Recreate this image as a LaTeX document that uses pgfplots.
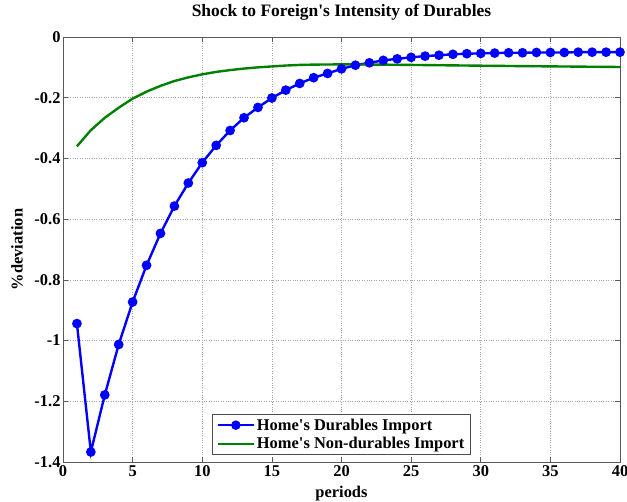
\documentclass[border=0pt]{standalone}
\usepackage{fontspec}
\setmainfont{Liberation Serif}[Ligatures=TeXOff]
\usepackage{pgfplots}
\pgfplotsset{compat=1.18}
\usepackage{pgfplotstable}

% Impulse responses, periods 1..40
\pgfplotstableread{
t dur nondur
1  -0.944 -0.360
2  -1.367 -0.307
3  -1.179 -0.266
4  -1.013 -0.233
5  -0.873 -0.203
6  -0.752 -0.180
7  -0.647 -0.161
8  -0.557 -0.145
9  -0.481 -0.133
10 -0.414 -0.123
11 -0.357 -0.115
12 -0.308 -0.109
13 -0.266 -0.104
14 -0.232 -0.100
15 -0.201 -0.097
16 -0.175 -0.094
17 -0.153 -0.092
18 -0.134 -0.0910
19 -0.120 -0.0905
20 -0.105 -0.0903
21 -0.093 -0.0904
22 -0.085 -0.0907
23 -0.077 -0.0911
24 -0.072 -0.0915
25 -0.067 -0.0920
26 -0.063 -0.0925
27 -0.060 -0.0930
28 -0.057 -0.0935
29 -0.055 -0.0940
30 -0.054 -0.0945
31 -0.053 -0.0950
32 -0.052 -0.0955
33 -0.052 -0.0960
34 -0.051 -0.0964
35 -0.051 -0.0968
36 -0.051 -0.0972
37 -0.050 -0.0976
38 -0.050 -0.0980
39 -0.050 -0.0984
40 -0.050 -0.0988
}\irf

\begin{document}
\begin{tikzpicture}
\path[use as bounding box] (-63bp,-40bp) rectangle (564bp,462bp);
\begin{axis}[
  at={(0,0)}, anchor=south west,
  scale only axis,
  width=557bp, height=425bp,
  xmin=0, xmax=40, ymin=-1.4, ymax=0,
  xtick={0,5,...,40},
  ytick={-1.4,-1.2,-1,-0.8,-0.6,-0.4,-0.2,0},
  yticklabels={-1.4,-1.2,-1,-0.8,-0.6,-0.4,-0.2,0},
  xticklabels={0,5,10,15,20,25,30,35,40},
  tick align=inside,
  tick pos=both,
  major tick length=5bp,
  tick style={black!65, line width=0.6pt},
  axis line style={black!65, line width=0.7pt},
  grid=major,
  major grid style={black!35, dotted, line width=0.6pt},
  ticklabel style={font=\fontsize{16.5}{17}\selectfont\bfseries},
  yticklabel style={xshift=1bp},
  title={\fontsize{17.5}{18}\selectfont\bfseries Shock to Foreign's Intensity of Durables},
  title style={at={(axis description cs:0.5,1.0353)}, anchor=base},
  xlabel={\fontsize{16.5}{17}\selectfont\bfseries periods},
  ylabel={\fontsize{16.5}{17}\selectfont\bfseries \%deviation},
  xlabel style={at={(axis description cs:0.5,-0.0824)}, anchor=base},
  ylabel style={at={(axis description cs:-0.0826,0.5)}, anchor=center},
  legend style={at={(0.5,0.017)}, anchor=south,
    font=\fontsize{16.5}{17}\selectfont\bfseries,
    draw=black!70, line width=0.6pt, fill=white,
    inner xsep=4bp, inner ysep=2bp,
    row sep=2bp},
  legend cell align=left,
  legend image post style={line width=2.2pt},
  legend image code/.code={\draw[#1] (0cm,0cm) -- (36bp,0cm);
    \path[#1,only marks] plot coordinates {(18bp,0cm)};},
  /pgf/number format/assume math mode=true,
]
\addplot[blue, line width=2.4pt, mark=*, mark size=3.6bp, mark options={solid, fill=blue}]
  table[x=t, y=dur] {\irf};
\addlegendentry{Home's Durables Import}
\addplot[green!50!black, line width=2.4pt, no marks]
  table[x=t, y=nondur] {\irf};
\addlegendentry{Home's Non-durables Import}
\end{axis}
\end{tikzpicture}
\end{document}
